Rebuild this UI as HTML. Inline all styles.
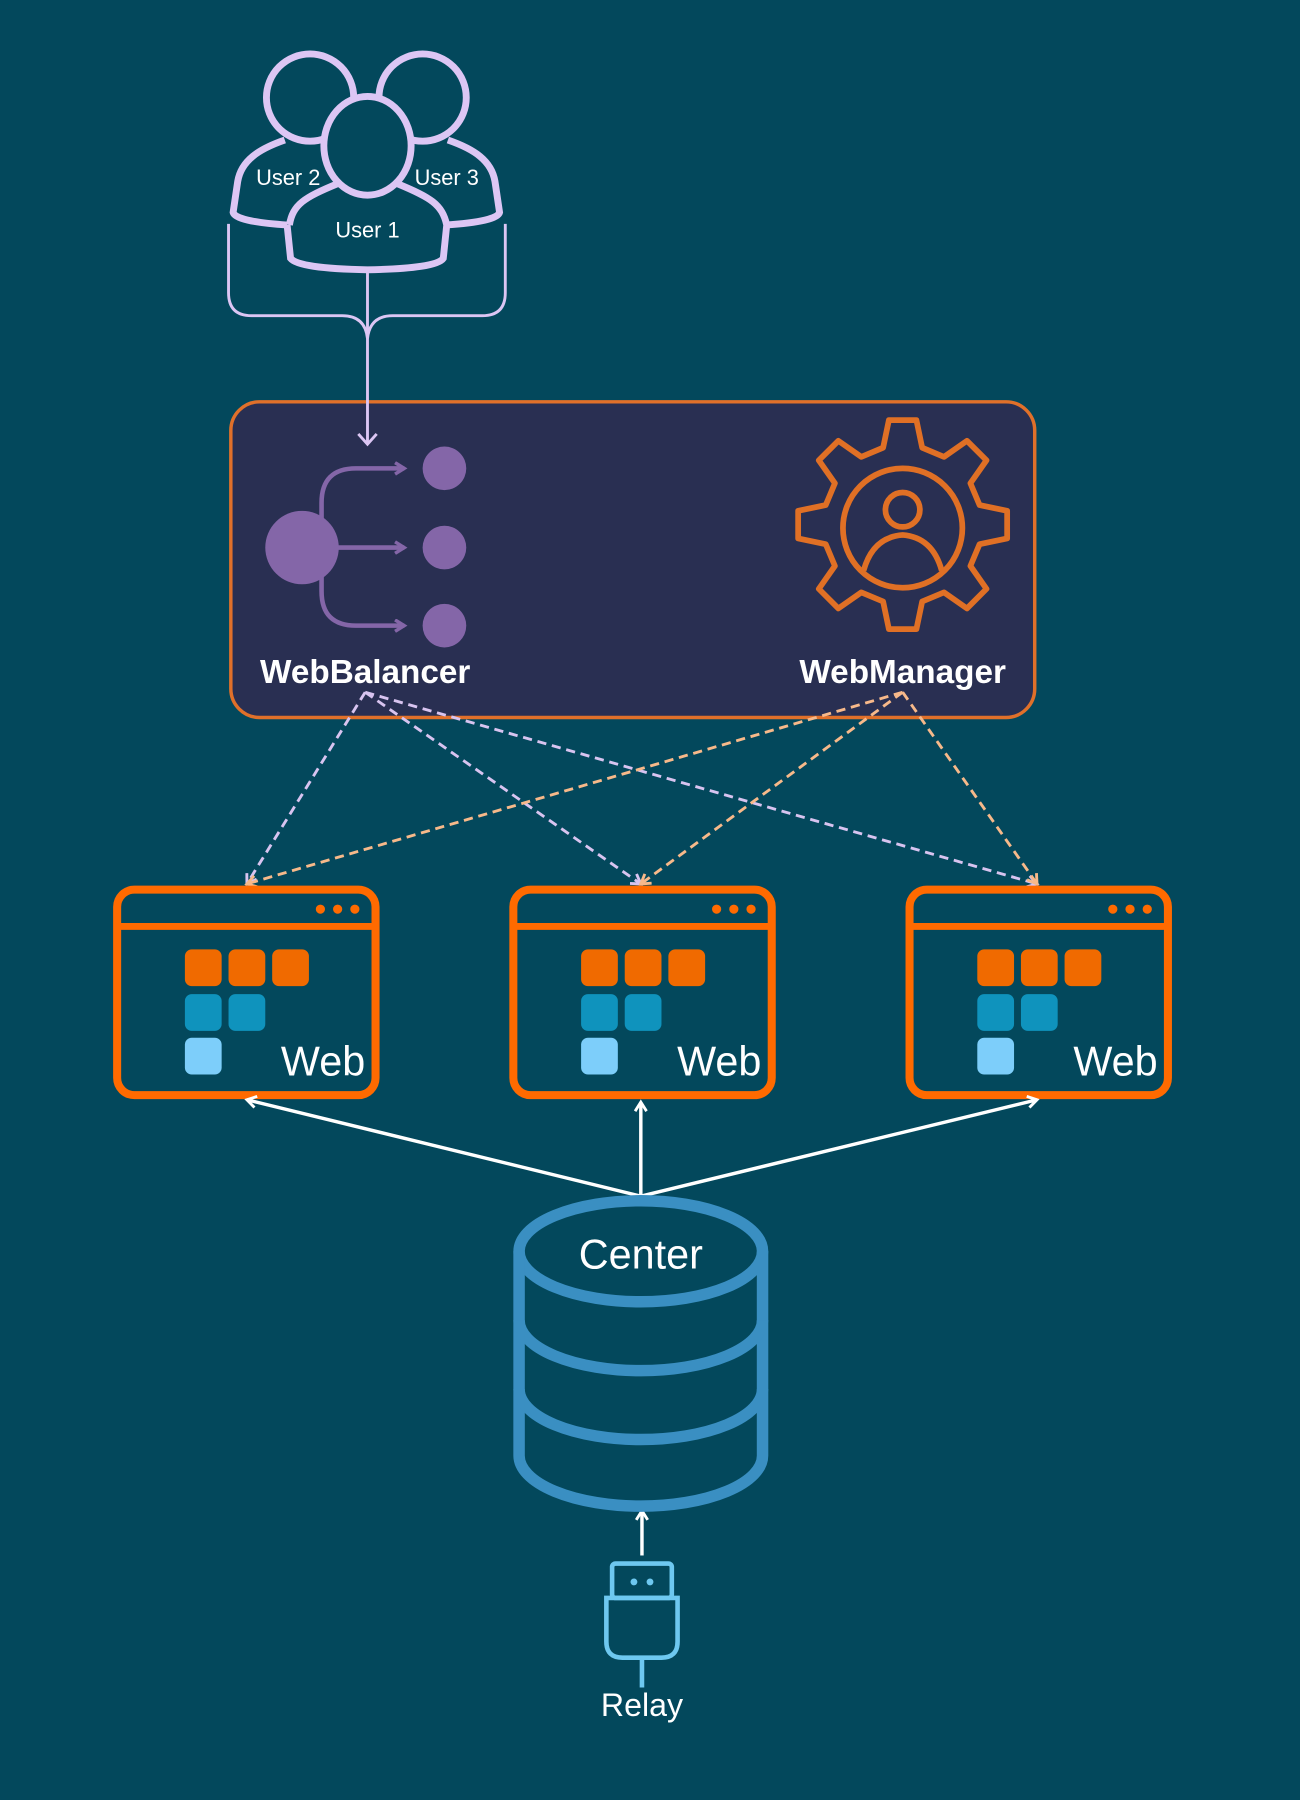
<!DOCTYPE html>
<html><head><meta charset="utf-8"><style>html,body{margin:0;padding:0;background:#03485c}svg{display:block}</style></head>
<body>
<svg width="1300" height="1800" viewBox="0 0 1132 1568" preserveAspectRatio="none" xmlns="http://www.w3.org/2000/svg" font-family="Liberation Sans, sans-serif">
<defs>
<marker id="aw" markerWidth="12" markerHeight="12" refX="9" refY="6" orient="auto" markerUnits="userSpaceOnUse"><path d="M1,1 L9,6 L1,11" fill="none" stroke="#fff" stroke-width="2.5"/></marker>
<marker id="al" markerWidth="12" markerHeight="12" refX="9" refY="6" orient="auto" markerUnits="userSpaceOnUse"><path d="M1,1 L9,6 L1,11" fill="none" stroke="#d8c4f0" stroke-width="2.5"/></marker>
<marker id="ap" markerWidth="12" markerHeight="12" refX="9" refY="6" orient="auto" markerUnits="userSpaceOnUse"><path d="M1,1 L9,6 L1,11" fill="none" stroke="#f7b98a" stroke-width="2.5"/></marker>
<marker id="ab" markerWidth="12" markerHeight="12" refX="9" refY="6" orient="auto" markerUnits="userSpaceOnUse"><path d="M1,1 L9,6 L1,11" fill="none" stroke="#8466a8" stroke-width="3"/></marker>
</defs>
<rect width="1132" height="1568" fill="#03485c"/>

<!-- users -->
<g fill="none" stroke="#dcc6f4" stroke-width="6">
<circle cx="270" cy="85" r="38"/>
<circle cx="368" cy="85" r="38"/>
<path d="M248,122 C225,130 210,140 207,158 L203,185 Q205,193 250,196"/>
<path d="M390,122 C413,130 428,140 431,158 L435,185 Q433,193 388,196"/>
<path d="M250,196 L253,225 Q260,234 320,235 Q380,234 386,225 L389,196 C385,178 375,172 346,160"/>
<path d="M294,160 C265,172 255,178 252,196"/>
<ellipse cx="320" cy="127" rx="38" ry="43" fill="#03485c"/>
</g>
<g fill="#fff" font-size="19" text-anchor="middle">
<text x="251" y="161">User 2</text><text x="389" y="161">User 3</text><text x="320" y="207">User 1</text>
</g>

<!-- main box -->
<rect x="201" y="350" width="700" height="275" rx="25" fill="#292f52" stroke="#e0702a" stroke-width="3"/>

<g fill="none" stroke="#dcc6f4" stroke-width="2.5">
<path d="M199,195 L199,255 Q199,275 219,275 L298,275 Q318,275 320,295"/>
<path d="M440,195 L440,255 Q440,275 420,275 L342,275 Q322,275 320,295"/>
<path d="M320,236 L320,386"/>
<path d="M312,378 L320,387 L328,378"/>
</g>

<circle cx="263" cy="477" r="32" fill="#8466a8"/>
<g fill="none" stroke="#8466a8" stroke-width="4">
<path d="M290,477 L352,477" marker-end="url(#ab)"/>
<path d="M280,455 L280,438 Q280,408 310,408 L352,408" marker-end="url(#ab)"/>
<path d="M280,499 L280,515 Q280,545 310,545 L352,545" marker-end="url(#ab)"/>
</g>
<g fill="#8466a8"><circle cx="387" cy="408" r="19"/><circle cx="387" cy="477" r="19"/><circle cx="387" cy="545" r="19"/></g>
<text x="318" y="595" fill="#fff" font-size="29" font-weight="bold" text-anchor="middle">WebBalancer</text>

<g fill="none" stroke="#e07025" stroke-width="5" stroke-linejoin="round">
<circle cx="786" cy="460" r="52"/>
<circle cx="786" cy="444" r="15"/>
<path d="M752,497 Q760,468 786,466 Q812,468 820,497"/>
<path d="M774,366 L798,366 L803,390 L822,398 L842,384 L859,401 L845,421 L853,440 L877,445 L877,469 L853,474 L845,493 L859,513 L842,530 L822,516 L803,524 L798,548 L774,548 L769,524 L750,516 L730,530 L713,513 L727,493 L719,474 L695,469 L695,445 L719,440 L727,421 L713,401 L730,384 L750,398 L769,390 Z"/>
</g>
<text x="786" y="595" fill="#fff" font-size="29" font-weight="bold" text-anchor="middle">WebManager</text>

<!-- dashed -->
<g fill="none" stroke-width="2.5" stroke-dasharray="8,5">
<g stroke="#d8c4f0">
<path d="M318,603 L215,770" marker-end="url(#al)"/>
<path d="M318,603 L558,770" marker-end="url(#al)"/>
<path d="M318,603 L903,770" marker-end="url(#al)"/>
</g>
<g stroke="#f7b98a">
<path d="M786,603 L215,770" marker-end="url(#ap)"/>
<path d="M786,603 L558,770" marker-end="url(#ap)"/>
<path d="M786,603 L903,770" marker-end="url(#ap)"/>
</g>
</g>

<!-- web boxes -->
<g id="w1">
<rect x="102" y="775" width="225" height="179" rx="15" fill="none" stroke="#ff6a00" stroke-width="7"/>
<line x1="102" y1="807" x2="327" y2="807" stroke="#ff6a00" stroke-width="6"/>
<g fill="#ff6a00"><circle cx="279" cy="792" r="4"/><circle cx="294" cy="792" r="4"/><circle cx="309" cy="792" r="4"/></g>
<g fill="#f06a00"><rect x="161" y="827" width="32" height="32" rx="6"/><rect x="199" y="827" width="32" height="32" rx="6"/><rect x="237" y="827" width="32" height="32" rx="6"/></g>
<g fill="#0f93bd"><rect x="161" y="866" width="32" height="32" rx="6"/><rect x="199" y="866" width="32" height="32" rx="6"/></g>
<rect x="161" y="904" width="32" height="32" rx="6" fill="#7dcefa"/>
<text x="318" y="937" fill="#fff" font-size="36" text-anchor="end">Web</text>
</g>
<use href="#w1" x="345"/>
<use href="#w1" x="690"/>

<!-- white arrows -->
<g fill="none" stroke="#fff" stroke-width="3">
<path d="M558,1042 L215,958" marker-end="url(#aw)"/>
<path d="M558,1042 L558,960" marker-end="url(#aw)"/>
<path d="M558,1042 L903,958" marker-end="url(#aw)"/>
<path d="M559,1355 L559,1316" marker-end="url(#aw)"/>
</g>

<!-- database -->
<g fill="none" stroke="#3a8fc2" stroke-width="10">
<ellipse cx="558" cy="1090" rx="106" ry="44"/>
<path d="M452,1090 L452,1268 A106,44 0 0 0 664,1268 L664,1090"/>
<path d="M452,1150 A106,44 0 0 0 664,1150"/>
<path d="M452,1210 A106,44 0 0 0 664,1210"/>
</g>
<text x="558" y="1105" fill="#fff" font-size="36" text-anchor="middle">Center</text>

<!-- relay -->
<g fill="none" stroke="#6ec8f0" stroke-width="4">
<rect x="533" y="1362" width="52" height="30" rx="3"/>
<path d="M528,1392 L590,1392 L590,1430 Q590,1444 576,1444 L542,1444 Q528,1444 528,1430 Z"/>
<path d="M559,1444 L559,1470"/>
</g>
<g fill="#6ec8f0"><circle cx="552" cy="1378" r="3"/><circle cx="566" cy="1378" r="3"/></g>
<text x="559" y="1495" fill="#fff" font-size="28" text-anchor="middle">Relay</text>
</svg>
</body></html>
